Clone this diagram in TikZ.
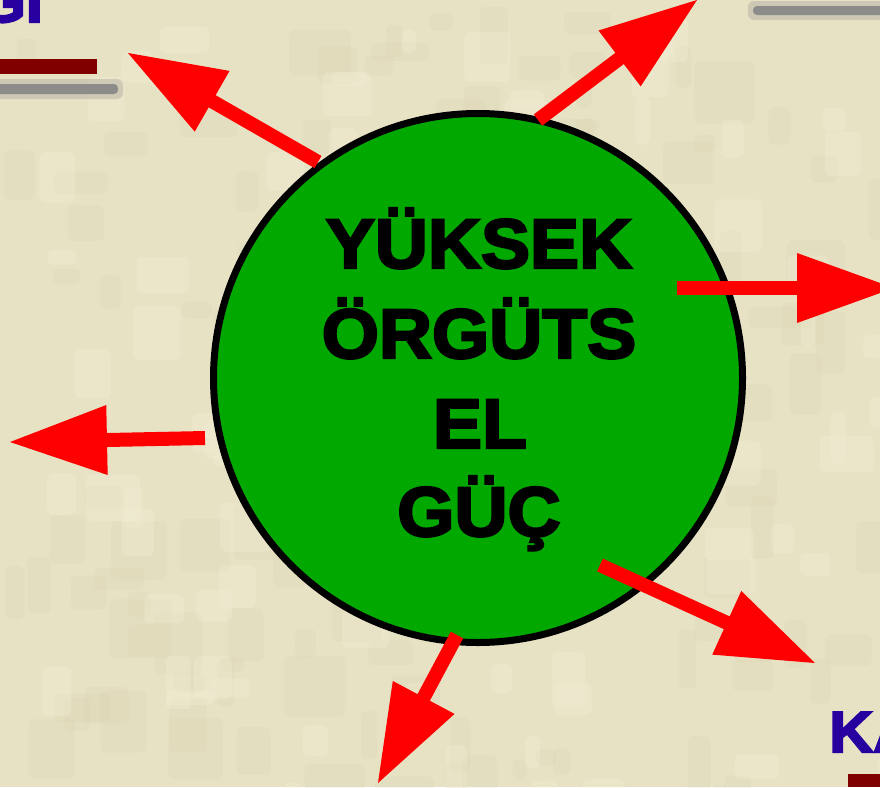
\documentclass[tikz,border=0pt]{standalone}
\usepackage{fontspec}
\setmainfont{Liberation Sans}
\newfontfamily\heavyfont[FakeBold=3.5,FakeStretch=1.05]{Liberation Sans Bold}
\usetikzlibrary{calc}
\definecolor{bg}{RGB}{232,226,197}
\definecolor{bgdark}{RGB}{212,204,168}
\definecolor{bglight}{RGB}{243,239,214}
\definecolor{circgreen}{RGB}{0,168,0}
\definecolor{arrred}{RGB}{255,0,0}
\definecolor{titleblue}{RGB}{40,0,160}
\definecolor{barred}{RGB}{128,0,0}
\definecolor{bargrey}{RGB}{140,140,138}
\tikzset{
  shaft/.style={draw=arrred, line width=14pt},
  headtri/.style={fill=arrred},
  bigword/.style={font=\heavyfont\fontsize{70}{90}\selectfont, inner sep=0pt, anchor=base},
  cornerword/.style={font=\heavyfont\fontsize{58}{58}\selectfont, text=titleblue, inner sep=0pt},
  blob/.style={fill=bgdark, opacity=0.16, rounded corners=6pt},
  lightblob/.style={fill=bglight, opacity=0.3, rounded corners=6pt},
}
\begin{document}
\begin{tikzpicture}[x=1pt,y=-1pt]
\useasboundingbox (0,0) rectangle (880,787);
\fill[bg] (0,0) rectangle (880,787);
\pgfmathsetseed{7}
\foreach \k in {1,...,140}{
  \pgfmathsetmacro\xx{rnd*880}
  \pgfmathsetmacro\yy{rnd*787}
  \pgfmathsetmacro\ww{14+rnd*50}
  \pgfmathsetmacro\hh{14+rnd*50}
  \fill[blob] (\xx,\yy) rectangle ++(\ww,\hh);
}
\foreach \k in {1,...,90}{
  \pgfmathsetmacro\xx{rnd*880}
  \pgfmathsetmacro\yy{rnd*787}
  \pgfmathsetmacro\ww{14+rnd*40}
  \pgfmathsetmacro\hh{14+rnd*40}
  \fill[lightblob] (\xx,\yy) rectangle ++(\ww,\hh);
}
% corner decorations
\node[cornerword, anchor=base east] (gi) at (43,22) {GI};
\fill[barred] (0,59) rectangle (97,74);
\fill[bargrey, opacity=0.3, rounded corners=6pt] (-10,79) rectangle (123,99);
\fill[bargrey, rounded corners=4pt] (-10,84) rectangle (118,94);
\fill[bargrey, opacity=0.3, rounded corners=6pt] (748,1) rectangle (890,20);
\fill[bargrey, rounded corners=4pt] (753,6) rectangle (890,15);
\node[cornerword, anchor=base west] (ka) at (829,752) {KA};
\fill[barred] (848,774) rectangle (880,787);
% circle
\node[circle, draw=black, line width=7pt, fill=circgreen, minimum size=529pt, inner sep=0pt] (c) at (478,378) {};
% arrows
\foreach \i/\sx/\sy/\tx/\ty in {1/318/162/128/53, 2/538/120/697/0, 3/677/288/894/288, 4/205/438/10/442, 5/600/565/815/663, 6/457/635/378/783}{
  \coordinate (s\i) at (\sx,\sy);
  \coordinate (t\i) at (\tx,\ty);
  \coordinate (b\i) at ($(t\i)!97pt!(s\i)$);
  \draw[shaft] (s\i) -- ($(b\i)!3pt!(t\i)$);
  \fill[headtri] (t\i) -- ($(b\i)!35pt!90:(t\i)$) -- ($(b\i)!35pt!-90:(t\i)$) -- cycle;
}
% text
\node[bigword] (l1) at (479,268) {YÜKSEK};
\node[bigword] (l2) at (479,358) {ÖRGÜTS};
\node[bigword] (l3) at (480,448) {EL};
\node[bigword] (l4) at (479,536) {GÜÇ};
\end{tikzpicture}
\end{document}
